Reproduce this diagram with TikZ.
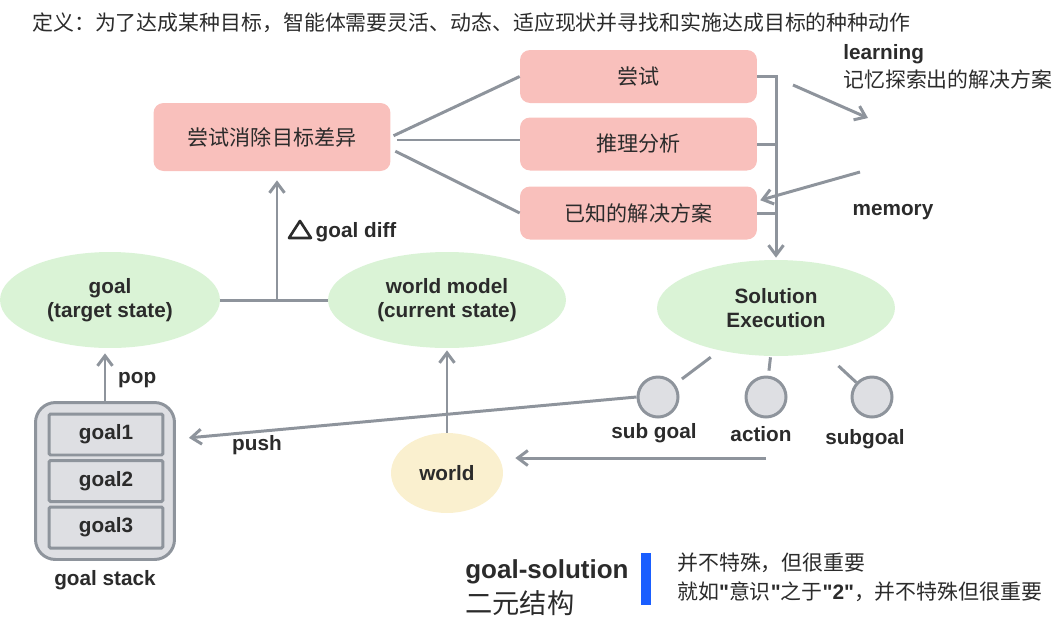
\documentclass[tikz,border=0pt]{standalone}
\usepackage{fontspec}
\setmainfont{Liberation Sans}
\newfontfamily\cjk{Noto Sans CJK SC}
\newfontfamily\qfont[Ligatures=TeXOff]{Liberation Sans}
\usepackage{xcolor}
\usepackage{tikz}
\usetikzlibrary{arrows.meta, calc, shapes.geometric, positioning}
\definecolor{linegray}{HTML}{8E949C}
\definecolor{boxpink}{HTML}{F9C0BC}
\definecolor{ellgreen}{HTML}{DAF3D6}
\definecolor{ellyellow}{HTML}{FAF0CF}
\definecolor{stackgray}{HTML}{DEDFE3}
\definecolor{textdark}{HTML}{2B2B2B}
\definecolor{barblue}{HTML}{1A5EFF}
\newcommand{\lbsize}{\fontsize{11.8}{13.7}\selectfont}

\begin{document}
\begin{tikzpicture}[x=0.02cm, y=-0.02cm,
	every node/.style={text=textdark, font=\lbsize\bfseries},
	link/.style={draw=linegray, line width=1.7pt},
	arrow/.style={link, -{Straight Barb[length=2mm, width=3mm]}},
	tbox/.style={rectangle, rounded corners=0.2cm, fill=boxpink, minimum width=4.74cm, minimum height=1.06cm, font=\cjk\fontsize{12}{14}\selectfont},
	state/.style={ellipse, fill=ellgreen, inner sep=0, minimum width=4.76cm, minimum height=1.92cm, align=center},
	slot/.style={rectangle, rounded corners=0.03cm, draw=linegray, line width=1.7pt, fill=stackgray, minimum width=2.28cm, minimum height=0.82cm},
	dot/.style={circle, draw=linegray, line width=1.7pt, fill=stackgray, minimum size=0.8cm, inner sep=0},
	cjktext/.style={anchor=west, inner sep=0, font=\cjk\fontsize{11.9}{14}\selectfont}
	]

	\useasboundingbox (0,0) rectangle (1055,623);

	% title line
	\node[cjktext] (title) at (32,23) {定义：为了达成某种目标，智能体需要灵活、动态、适应现状并寻找和实施达成目标的种种动作};

	% diff box and the three ways
	\node[tbox, minimum width=4.74cm, minimum height=1.36cm] (diff) at (272,137) {尝试消除目标差异};
	\foreach \n/\y/\t in {try/76.5/尝试, analysis/144/推理分析, known/213/已知的解决方案}
		\node[tbox] (\n) at (638.5,\y) {\t};

	\draw[link, shorten <=0.06cm] (diff.east) -- (try.west);
	\draw[link, shorten <=0.12cm] ([yshift=-0.06cm]diff.east) -- ([yshift=-0.06cm]diff.east -| analysis.west);
	\draw[link, shorten <=0.1cm] ([yshift=-0.24cm]diff.east) -- (known.west);

	% states
	\node[state, minimum width=4.4cm] (goal) at (110,300) {goal\\(target state)};
	\node[state] (wm) at (447,300) {world model\\(current state)};
	\node[state] (sol) at (776,308) {Solution\\Execution};
	\node[ellipse, fill=ellyellow, minimum width=2.24cm, minimum height=1.6cm] (world) at (447,473) {world};

	\draw[arrow, shorten >=0.04cm] (try.east) -| (sol.north);
	\draw[link] (analysis.east) -- (analysis.east -| sol.north);
	\draw[link] (known.east) -- (known.east -| sol.north);

	% learning / memory
	\node[anchor=west, inner sep=0] (learn) at (843,54) {learning};
	\node[cjktext] (learntxt) at (843,80) {记忆探索出的解决方案};
	\node (memory) at (893,212) {memory};
	\coordinate (learnA) at (793,85);
	\coordinate (learnB) at (868,118);
	\coordinate (mem) at (860,172);
	\draw[arrow] (learnA) -- (learnB);
	\draw[arrow, shorten >=0.06cm] (mem) -- ([yshift=0.24cm]known.east);

	% goal diff
	\coordinate (mid) at (277,300);
	\draw[link] (goal.east) -- (wm.west);
	\draw[arrow, shorten >=0.18cm] (mid) -- (mid |- diff.south);
	\node (difflbl) at (342,231) {\tikz[baseline=0pt, x=1cm, y=1cm]\draw[draw=textdark, line width=1.5pt, line join=round] (0,0) -- (0.44,0) -- (0.22,0.34) -- cycle;\,goal diff};

	% goal stack
	\node[rectangle, rounded corners=0.4cm, draw=linegray, line width=1.7pt, fill=stackgray, minimum width=2.78cm, minimum height=3.14cm] (stack) at (105,481) {};
	\foreach \i/\y in {1/434.5, 2/481, 3/527.5}
		\node[slot] (g\i) at (106,\y) {goal\i};
	\node[below=0.06cm of stack] (stacklbl) {goal stack};
	\draw[arrow, shorten >=0.1cm] (stack.north) -- (stack.north |- goal.south);
	\node[anchor=west] (poplbl) at (112,380) {pop};

	% sub steps
	\foreach \n/\x/\lx/\ly/\t in {sg1/658/654/433/sub goal, act/766/761/434/action, sg2/872/865/439/subgoal}{
		\node[dot] (\n) at (\x,397) {};
		\node (\n-lbl) at (\lx,\ly) {\t};
	}
	\draw[link, shorten <=0.22cm, shorten >=0.17cm] (sol) -- (sg1);
	\draw[link, shorten <=0.02cm, shorten >=0.1cm] (sol) -- (act);
	\draw[link, shorten <=0.4cm] (sol) -- (sg2);

	\draw[arrow, shorten >=0.26cm] (sg1.west) -- ([yshift=0.84cm]stack.east);
	\node (pushlbl) at (257,445) {push};

	\coordinate (out) at (766,458);
	\draw[arrow, shorten >=0.24cm] (out) -- (out -| world.east);
	\draw[arrow, shorten >=0.04cm] (world) -- (wm);

	% bottom note
	\node[anchor=west, inner sep=0, font=\fontsize{14.8}{16}\selectfont\bfseries] (gs) at (465,572) {goal-solution};
	\node[anchor=west, inner sep=0, font=\cjk\fontsize{15.5}{17}\selectfont] (gs2) at (465,603) {二元结构};
	\fill[barblue] (641,553) rectangle (651,605);
	\node[cjktext] (note1) at (677,563) {并不特殊，但很重要};
	\node[cjktext] (note2) at (677,592) {就如{\qfont\bfseries "}意识{\qfont\bfseries "}之于{\qfont\bfseries "2"}，并不特殊但很重要};

\end{tikzpicture}
\end{document}
